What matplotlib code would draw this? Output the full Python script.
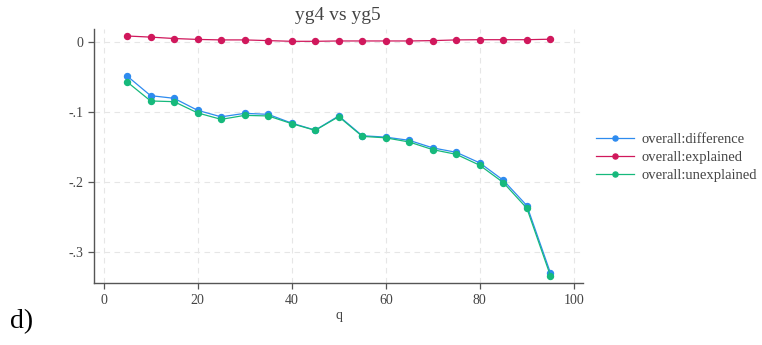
import matplotlib
matplotlib.use("Agg")
import matplotlib.pyplot as plt
from matplotlib.ticker import FuncFormatter

q = [5, 10, 15, 20, 25, 30, 35, 40, 45, 50, 55, 60, 65, 70, 75, 80, 85, 90, 95]
difference = [-0.0486, -0.0767, -0.0805, -0.0977, -0.1070, -0.1020, -0.1034, -0.1160, -0.1260,
               -0.1057, -0.1340, -0.1360, -0.1406, -0.1514, -0.1577, -0.1729, -0.1977, -0.2339, -0.3300]
explained = [0.0086, 0.0070, 0.0050, 0.0037, 0.0030, 0.0030, 0.0020, 0.0010, 0.0010,
             0.0015, 0.0015, 0.0015, 0.0015, 0.0020, 0.0030, 0.0033, 0.0033, 0.0033, 0.0040]
unexplained = [-0.0570, -0.0843, -0.0853, -0.1014, -0.1106, -0.1049, -0.1057, -0.1167, -0.1263,
               -0.1067, -0.1349, -0.1370, -0.1430, -0.1539, -0.1606, -0.1763, -0.2010, -0.2377, -0.3340]
labels = ["overall:difference", "overall:explained", "overall:unexplained"]
colors = ["#2E8BEF", "#D0185C", "#16B97C"]
title = "yg4 vs yg5"
xlabel = "q"
xticks = [0, 20, 40, 60, 80, 100]
yticks = [0, -0.1, -0.2, -0.3]

plt.rcParams['font.family'] = ['Liberation Serif', 'DejaVu Serif']

fig = plt.figure(figsize=(7.62, 3.45), dpi=100)
W, H = 762, 345
x0, x1 = 93.7, 583.3
y0, y1 = 283.3, 29
ax = fig.add_axes([x0 / W, 1 - y0 / H, (x1 - x0) / W, (y0 - y1) / H])

for ys, lab, c in zip([difference, explained, unexplained], labels, colors):
    ax.plot(q, ys, color=c, lw=0.9, marker='o', ms=4.3, label=lab)

ax.set_xlim(-2.1, 102)
ax.set_ylim(-0.345, 0.0186)
ax.set_xticks(xticks)
ax.set_yticks(yticks)

def fmt(v, pos):
    if abs(v) < 1e-9:
        return "0"
    s = f"{v:.1f}"
    return s.replace("0.", ".")

ax.yaxis.set_major_formatter(FuncFormatter(fmt))
ax.grid(True, ls=(0, (5, 4)), color="#e6e6e6", lw=0.8)
ax.set_axisbelow(True)
for s in ["top", "right"]:
    ax.spines[s].set_visible(False)
for s in ["left", "bottom"]:
    ax.spines[s].set_color("#555555")
    ax.spines[s].set_linewidth(1.0)
ax.tick_params(axis='both', colors="#555555", labelcolor="#444444", labelsize=10,
               length=4, width=0.9, direction='out')
ax.set_xlabel(xlabel, fontsize=10, color="#444444", labelpad=2)

fig.text(338 / W, 1 - 15 / H, title, ha='center', va='center', fontsize=14, color="#444444")

leg = ax.legend(loc='center left', bbox_to_anchor=((596 - x0) / (x1 - x0), (y0 - 157.5) / (y0 - y1)),
                bbox_transform=ax.transAxes, frameon=False, fontsize=10.5, handlelength=2.6,
                labelspacing=0.35, handletextpad=0.5, markerscale=0.85, labelcolor="#444444",
                borderaxespad=0, borderpad=0)

fig.text(10 / W, 1 - 322 / H, "d)", ha='left', va='center', fontsize=20, color="black")

fig.savefig("out.png", dpi=100)
